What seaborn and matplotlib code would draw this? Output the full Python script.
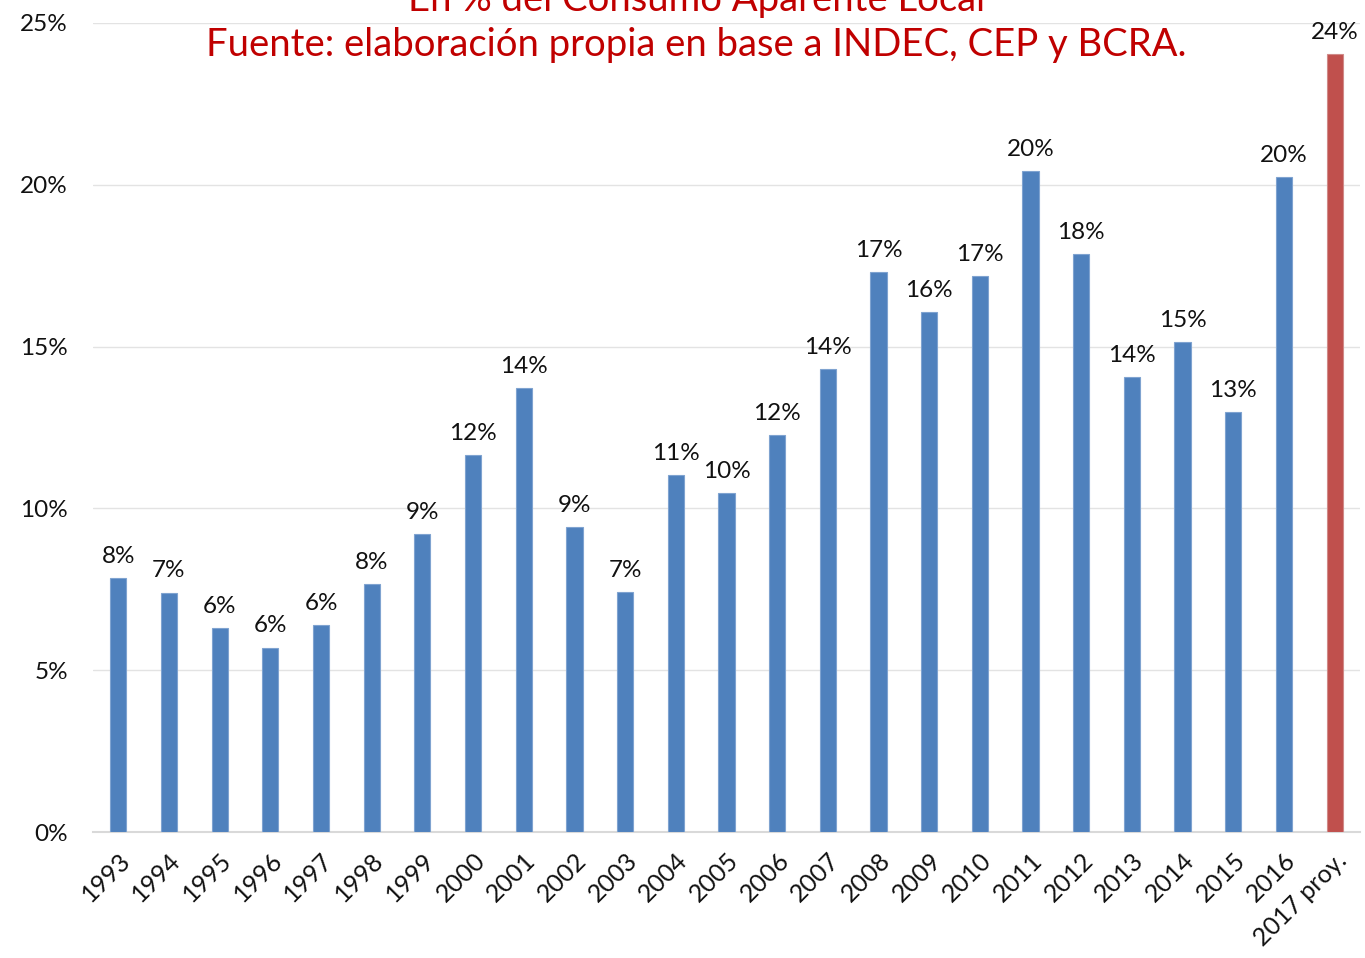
import numpy as np
import pandas as pd
import seaborn as sns
import matplotlib.pyplot as plt

# datos
years = ['1993', '1994', '1995', '1996', '1997', '1998', '1999', '2000', '2001', '2002',
         '2003', '2004', '2005', '2006', '2007', '2008', '2009', '2010', '2011', '2012',
         '2013', '2014', '2015', '2016', '2017 proy.']
values = [7.85, 7.40, 6.30, 5.70, 6.40, 7.66, 9.21, 11.65, 13.72, 9.43,
          7.42, 11.03, 10.48, 12.27, 14.31, 17.30, 16.07, 17.18, 20.43, 17.86,
          14.06, 15.14, 12.98, 20.24, 24.04]
labels = ['8%', '7%', '6%', '6%', '6%', '8%', '9%', '12%', '14%', '9%',
          '7%', '11%', '10%', '12%', '14%', '17%', '16%', '17%', '20%', '18%',
          '14%', '15%', '13%', '20%', '24%']
kind = ['hist'] * 24 + ['proy']

df = pd.DataFrame({'year': years, 'value': values, 'kind': kind})

sns.set_style('white')
plt.rcParams['font.family'] = ['Lato', 'DejaVu Sans']

fig = plt.figure(figsize=(13.65, 9.58), dpi=100)
ax = fig.add_axes([0.0681, 0.1315, 0.9282, 0.8445])

sns.barplot(data=df, x='year', y='value', hue='kind', dodge=False, legend=False,
            palette={'hist': '#4F81BD', 'proy': '#C0504D'}, width=0.32, saturation=1,
            edgecolor='#7fa3d0', linewidth=0.8, ax=ax, zorder=3)
# borde del proyectado
ax.patches[-1].set_edgecolor('#d08a88')

for i, (v, t) in enumerate(zip(values, labels)):
    ax.text(i, v + 0.35, t, ha='center', va='bottom', fontsize=17.5, color='#111111')

ax.set_xlim(-0.5, 24.5)
ax.set_ylim(0, 25)
ax.set_yticks([0, 5, 10, 15, 20, 25])
ax.set_yticklabels(['0%', '5%', '10%', '15%', '20%', '25%'], fontsize=17.5, color='#111111')
ax.grid(axis='y', color='#e3e3e3', linewidth=1, zorder=0)
ax.tick_params(axis='both', length=0)
ax.tick_params(axis='y', pad=18)
plt.setp(ax.get_xticklabels(), rotation=45, ha='right', rotation_mode='anchor',
         fontsize=18, color='#111111')
ax.tick_params(axis='x', pad=12)
ax.set_xlabel('')
ax.set_ylabel('')
for s in ['top', 'right', 'left']:
    ax.spines[s].set_visible(False)
ax.spines['bottom'].set_color('#d9d9d9')
ax.spines['bottom'].set_linewidth(1.5)

fig.text(0.51, 1.0, 'En % del Consumo Aparente Local', ha='center', va='center',
         fontsize=27.5, color='#C00000')
fig.text(0.51, 0.953, 'Fuente: elaboración propia en base a INDEC, CEP y BCRA.',
         ha='center', va='center', fontsize=27.5, color='#C00000')

plt.savefig('out.png', dpi=100)
